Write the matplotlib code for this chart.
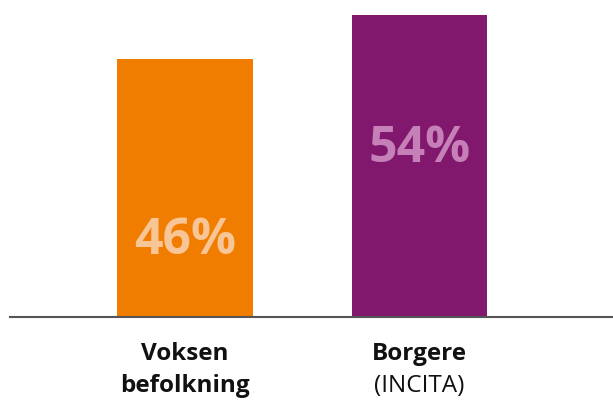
import matplotlib.pyplot as plt

# data
kategorier = ['Voksen', 'Borgere']
undertekst = ['befolkning', '(INCITA)']
verdier = [46, 54]
farger = ['#F07D00', '#82176E']
tekstfarger = ['#F8C596', '#C580B8']

fig = plt.figure(figsize=(6.13, 4.0), dpi=100)
W, H = 613, 400
# axes in pixel units: x from 10 to 613, baseline at y=317 from top
ax = fig.add_axes([10 / W, (H - 317) / H, (W - 10) / W, 317 / H])

x = [0, 1]
ax.bar(x, verdier, width=0.576, color=farger)
ax.set_xlim(-0.746, 1.825)
ax.set_ylim(0, 56.6)

for s in ['top', 'right', 'left']:
    ax.spines[s].set_visible(False)
ax.spines['bottom'].set_color('#555555')
ax.spines['bottom'].set_linewidth(1.5)
ax.set_yticks([])
ax.set_xticks([])

# verdier inne i stolpene
ytekst = [13.5, 30.0]
for i in range(len(verdier)):
    ax.text(x[i], ytekst[i], f'{verdier[i]}%', ha='center', va='center',
            fontsize=36, fontweight='bold', color=tekstfarger[i], family='Open Sans')

# kategorietiketter
for i in range(len(kategorier)):
    ax.text(x[i], -6.6, kategorier[i], ha='center', va='center', fontsize=17.5,
            fontweight='bold', color='#111111', family='Open Sans')
    ax.text(x[i], -12.4, undertekst[i], ha='center', va='center', fontsize=17.5,
            fontweight='bold' if i == 0 else 'normal', color='#111111', family='Open Sans')

fig.savefig('out.png', dpi=100)
